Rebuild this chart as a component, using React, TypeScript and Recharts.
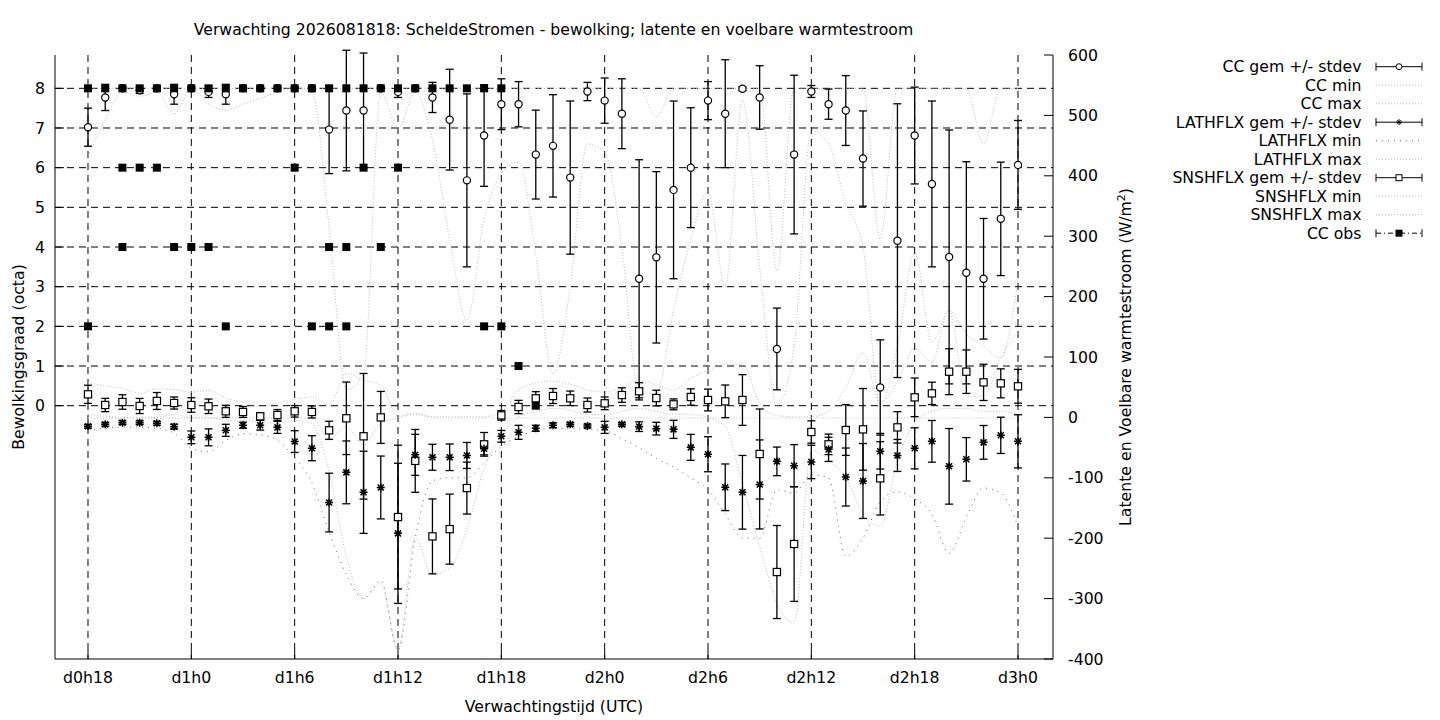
import React from 'react';
import { ComposedChart, Line, Scatter, XAxis, YAxis, CartesianGrid, ErrorBar } from 'recharts';

// uren na d0h18
const hours = [
  0, 1, 2, 3, 4, 5, 6, 7, 8, 9, 10, 11, 12, 13, 14, 15, 16, 17, 18, 19, 20, 21, 22, 23, 24, 25, 26, 27,
  28, 29, 30, 31, 32, 33, 34, 35, 36, 37, 38, 39, 40, 41, 42, 43, 44, 45, 46, 47, 48, 49, 50, 51, 52, 53, 54,
];
const xTicks = [0, 6, 12, 18, 24, 30, 36, 42, 48, 54];
const xTickLabels = ['d0h18', 'd1h0', 'd1h6', 'd1h12', 'd1h18', 'd2h0', 'd2h6', 'd2h12', 'd2h18', 'd3h0'];
const ccTicks = [0, 1, 2, 3, 4, 5, 6, 7, 8];
const fluxTicks = [-400, -300, -200, -100, 0, 100, 200, 300, 400, 500, 600];

// bewolking (octa)
const ccMean = [
  7.02, 7.77, 8, 7.95, 8, 7.85, 8, 7.91, 7.85, 8, 8, 8, 8, 8, 6.96, 7.44, 7.44, 8, 7.91, 8, 7.77, 7.21, 5.68, 6.81,
  7.6, 7.6, 6.33, 6.55, 5.75, 7.92, 7.69, 7.36, 3.2, 3.74, 5.44, 6.0, 7.69, 7.36, 7.99, 7.77, 1.43, 6.33, 7.92, 7.6,
  7.44, 6.23, 0.46, 4.16, 6.81, 5.59, 3.75, 3.35, 3.2, 4.71, 6.07,
];
const ccStdev = [
  0.48, 0.33, 0, 0.08, 0, 0.25, 0, 0.14, 0.25, 0, 0, 0, 0, 0, 1.11, 1.52, 1.45, 0, 0.14, 0, 0.38, 1.27, 2.18, 1.28,
  0.64, 0.57, 1.12, 1.29, 1.93, 0.23, 0.57, 0.88, 3.0, 2.16, 2.24, 1.51, 0.48, 1.36, 0.05, 0.8, 1.03, 2.0, 0.15, 0.38,
  0.88, 1.2, 1.2, 3.45, 1.22, 2.09, 3.2, 2.8, 1.52, 1.43, 1.12,
];
const ccMin = [
  6.3, 7.2, 7.9, 7.8, 7.9, 7.35, 8, 7.6, 7.45, 7.6, 7.75, 7.9, 8, 7.9, 4.5, 0.4, 0.8, 7.9, 7.0, 7.9, 6.7, 4.2, 2.15,
  4.7, 5.85, 6.14, 3.8, 0.8, 3.0, 6.6, 6.4, 4.0, 0.3, 0.3, 2.4, 4.2, 5.4, 3.0, 7.7, 3.5, 0.0, 1.5, 6.94, 6.6, 5.1,
  4.0, 0.0, 1.5, 3.85, 1.6, 2.4, 1.8, 1.5, 1.2, 3.2,
];
const ccMax = [
  8, 8, 8, 8, 8, 8, 8, 8, 8, 8, 8, 8, 8, 8, 8, 8, 8, 8, 8, 8, 8, 8, 8, 8, 8, 8, 8, 8, 8, 8, 8, 8, 8, 7.28, 8, 8, 8,
  8, 8, 8, 3.4, 8, 8, 8, 8, 8, 4.2, 8, 8, 8, 8, 8, 6.6, 8, 8,
];

// latente warmtestroom (W/m2)
const latMean = [
  -14.8, -11.5, -8.7, -8.7, -9.8, -15.3, -33, -33, -21.4, -13, -13, -16.5, -40, -51, -141, -91, -124, -116, -192, -62,
  -66, -66, -63, -52, -31.3, -24.7, -18, -13, -11.5, -14.2, -16.5, -11.5, -15.3, -18.6, -19.8, -49.6, -61, -115.7,
  -124, -111, -72.8, -80, -73.8, -52.9, -98.7, -105.3, -56, -63, -51.2, -39.6, -81, -69.4, -41.3, -29.7, -39.6,
];
const latStdev = [
  3, 3, 3, 3, 3, 4, 10.5, 14, 10, 5, 8, 10, 18, 20.7, 48.6, 52, 68, 52, 116, 34, 21.5, 22, 21.5, 10, 9.7, 11.6, 5, 4,
  3, 3, 10, 3, 8, 10.5, 15, 21.5, 29, 38.6, 61, 73.7, 23.7, 35, 27.6, 20, 48, 62, 29.5, 26.5, 34, 34.5, 62.6, 36, 27.9,
  30, 44,
];
const latMin = [
  -20, -18, -16, -16, -18, -26, -51, -57, -38, -27, -29, -38, -67, -109, -190, -260, -300, -270, -385, -200, -105,
  -100, -100, -75, -48, -32, -22, -18, -18, -20, -22, -35, -50, -68, -82, -100, -120, -160, -200, -200, -120, -125,
  -95, -100, -230, -200, -140, -123, -135, -160, -225, -165, -117, -125, -181,
];
const latMax = [
  -1, -1, -1, -1, -1, -1, -1, -1, -1, -1, -1, -1, -1, -1, -35, -15, -45, -10, -1, 6, -1, -1, -1, -1, -1, -1, -1, -1,
  -1, -1, -1, -1, -1, -1, -1, -1, -1, -1, -1, -1, -1, -1, -1, -1, -1, -1, -1, -1, -1, -1, -1, -1, -1, -1, -1,
];

// voelbare warmtestroom (W/m2)
const snsMean = [
  38.2, 20.5, 25.5, 18.9, 27.2, 23.8, 20.5, 18.4, 10.1, 9, 1.8, 4, 10.1, 9, -21.4, -1.5, -31.3, 0, -165, -72, -197,
  -185, -117, -44.6, 3.4, 17.2, 31.6, 35.4, 31.6, 20.5, 23.3, 37, 43.2, 32, 21.6, 33.8, 28.8, 26.6, 28.8, -60.6, -256,
  -209.6, -24.2, -44.6, -20.9, -19.8, -100.9, -16.5, 33.2, 39.8, 75.7, 75.7, 58, 56.4, 51.5,
];
const snsStdev = [
  15, 11, 12, 12.5, 14, 10, 12, 12, 10, 9, 5.5, 9, 9.5, 10, 15, 60, 104, 43, 119, 52, 62, 58, 43, 19.6, 8, 11, 11,
  12.4, 12, 11.6, 10.5, 12, 14.3, 13, 9, 13.5, 18, 27, 42, 74.5, 77, 95, 18.5, 17, 42, 67.6, 60.7, 26, 32, 18.5, 38,
  36, 30, 24, 28,
];
const snsMin = [
  5, 2, 0, 0, 0, 5, 0, 0, -5, -5, -8, -10, -5, -10, -90, -230, -300, -275, -385, -200, -260, -250, -185, -85, -30, 0,
  10, 15, 12, 5, 5, 10, 15, 10, 5, 5, 0, -15, -110, -214, -307, -340, -55, -70, -100, -160, -180, -70, -10, 10, 15, 15,
  10, 10, 5,
];
const snsMax = [
  57, 52, 48, 40, 47, 46, 42, 45, 32, 25, 18, 24, 30, 34, 20, 73, 62, 54, 2, 7, 1, 1, 1, 1, 10, 45, 57, 60, 55, 45,
  42, 50, 62, 54, 45, 65, 78, 88, 88, 24, 3, 1, 1, 10, 50, 107, 24, 60, 115, 92, 178, 35, 35, 100, 140,
];

// waargenomen bewolking
const obsHour = [
  0, 0, 1, 2, 2, 2, 3, 3, 4, 4, 5, 5, 6, 6, 7, 7, 8, 8, 9, 10, 11, 12, 12, 13, 13, 14, 14, 14, 15, 15, 15, 16, 16,
  17, 17, 18, 18, 19, 20, 21, 22, 23, 23, 24, 24, 25, 26,
];
const obsOcta = [
  8, 2, 8, 8, 6, 4, 8, 6, 8, 6, 8, 4, 8, 4, 8, 4, 8, 2, 8, 8, 8, 8, 6, 8, 2, 8, 4, 2, 8, 4, 2, 8, 6,
  8, 4, 8, 6, 8, 8, 8, 8, 8, 2, 8, 2, 1, 0,
];

const rows = hours.map((t, i) => ({
  t,
  ccMean: ccMean[i],
  ccErr: ccStdev[i],
  ccMin: ccMin[i],
  ccMax: ccMax[i],
  latMean: latMean[i],
  latErr: latStdev[i],
  latMin: latMin[i],
  latMax: latMax[i],
  snsMean: snsMean[i],
  snsErr: snsStdev[i],
  snsMin: snsMin[i],
  snsMax: snsMax[i],
}));
const obsRows = obsHour.map((t, i) => ({ t, v: obsOcta[i] }));

const FONT = '"DejaVu Sans", sans-serif';
const FS = 15.7;
const LIGHT = '#bcbcbc';

const renderCircle = (p: any) => (
  <circle key={`cc${p.index}`} cx={p.cx} cy={p.cy} r={3.6} fill="#fff" stroke="#000" strokeWidth={1.2} />
);
const renderAsterisk = (p: any) => {
  const { cx, cy } = p;
  const r = 4;
  const d = 3;
  return (
    <path
      key={`la${p.index}`}
      d={`M${cx - r},${cy}H${cx + r}M${cx},${cy - r}V${cy + r}M${cx - d},${cy - d}L${cx + d},${cy + d}M${cx - d},${cy + d}L${cx + d},${cy - d}`}
      stroke="#000"
      strokeWidth={1.5}
      fill="none"
    />
  );
};
const renderOpenSquare = (p: any) => (
  <rect key={`sn${p.index}`} x={p.cx - 3.6} y={p.cy - 3.6} width={7.2} height={7.2} fill="#fff" stroke="#000" strokeWidth={1.2} />
);
const renderObs = (p: any) => <rect x={p.cx - 4} y={p.cy - 4} width={8} height={8} fill="#000" />;

const legendItems = [
  { label: 'CC gem +/- stdev', kind: 'circle' },
  { label: 'CC min', kind: 'light' },
  { label: 'CC max', kind: 'light' },
  { label: 'LATHFLX gem +/- stdev', kind: 'asterisk' },
  { label: 'LATHFLX min', kind: 'sparse' },
  { label: 'LATHFLX max', kind: 'light' },
  { label: 'SNSHFLX gem +/- stdev', kind: 'square' },
  { label: 'SNSHFLX min', kind: 'light' },
  { label: 'SNSHFLX max', kind: 'light' },
  { label: 'CC obs', kind: 'obs' },
];

function LegendSample({ kind, y }: { kind: string; y: number }) {
  const x1 = 1376;
  const x2 = 1422;
  const xm = (x1 + x2) / 2;
  if (kind === 'light') return <line x1={x1} x2={x2} y1={y} y2={y} stroke={LIGHT} strokeDasharray="1 2" />;
  if (kind === 'sparse') return <line x1={x1} x2={x2} y1={y} y2={y} stroke="#777" strokeDasharray="1 5" />;
  const caps = (
    <>
      <line x1={x1} x2={x1} y1={y - 4} y2={y + 4} stroke="#000" />
      <line x1={x2} x2={x2} y1={y - 4} y2={y + 4} stroke="#000" />
    </>
  );
  if (kind === 'obs')
    return (
      <g>
        <line x1={x1} x2={x2} y1={y} y2={y} stroke="#000" strokeDasharray="5 3 1 3" />
        {caps}
        <rect x={xm - 3.5} y={y - 3.5} width={7} height={7} fill="#000" />
      </g>
    );
  return (
    <g>
      <line x1={x1} x2={x2} y1={y} y2={y} stroke="#000" />
      {caps}
      {kind === 'circle' && <circle cx={xm} cy={y} r={3} fill="#fff" stroke="#000" />}
      {kind === 'square' && <rect x={xm - 3} y={y - 3} width={6} height={6} fill="#fff" stroke="#000" />}
      {kind === 'asterisk' && (
        <path
          d={`M${xm - 3},${y}H${xm + 3}M${xm},${y - 3}V${y + 3}M${xm - 2},${y - 2}L${xm + 2},${y + 2}M${xm - 2},${y + 2}L${xm + 2},${y - 2}`}
          stroke="#000"
        />
      )}
    </g>
  );
}

export default function App() {
  const tickStyle = { fill: '#000', fontSize: FS, fontFamily: FONT };
  return (
    <div style={{ position: 'absolute', left: 0, top: 0, width: 1440, height: 720, background: '#fff' }}>
      <ComposedChart
        width={1440}
        height={720}
        data={rows}
        margin={{ top: 55, right: 287, bottom: 0, left: 0 }}
      >
        <CartesianGrid yAxisId="left" stroke="#000" strokeDasharray="7 5" horizontalValues={ccTicks} verticalValues={xTicks} />
        <XAxis
          dataKey="t"
          type="number"
          domain={[-1.916, 56.032]}
          ticks={xTicks}
          allowDataOverflow
          height={61}
          tickFormatter={(v: number) => xTickLabels[xTicks.indexOf(v)] ?? ''}
          tick={tickStyle}
          tickSize={-9}
          tickMargin={22}
          tickLine={{ stroke: '#000' }}
          axisLine={{ stroke: '#000' }}
        />
        <XAxis xAxisId="top" orientation="top" type="number" domain={[-1.916, 56.032]} height={0} tick={false} tickLine={false} axisLine={{ stroke: '#000' }} />
        <YAxis
          yAxisId="left"
          type="number"
          domain={[-6.385, 8.84]}
          ticks={ccTicks}
          allowDataOverflow
          width={55}
          tick={tickStyle}
          tickSize={-9}
          tickMargin={19}
          tickLine={{ stroke: '#000' }}
          axisLine={{ stroke: '#000' }}
        />
        <YAxis
          yAxisId="leftMirror"
          orientation="right"
          type="number"
          domain={[-6.385, 8.84]}
          ticks={ccTicks}
          allowDataOverflow
          width={0}
          tick={false}
          tickSize={-9}
          tickLine={{ stroke: '#000' }}
          axisLine={false}
        />
        <YAxis
          yAxisId="right"
          orientation="right"
          type="number"
          domain={[-400, 600]}
          ticks={fluxTicks}
          allowDataOverflow
          width={100}
          tick={{ ...tickStyle, textAnchor: 'start' }}
          tickSize={-9}
          tickMargin={24}
          tickLine={{ stroke: '#000' }}
          axisLine={{ stroke: '#000' }}
        />

        <Line yAxisId="left" dataKey="ccMin" type="monotone" stroke={LIGHT} strokeDasharray="1 2" dot={false} isAnimationActive={false} />
        <Line yAxisId="left" dataKey="ccMax" type="monotone" stroke={LIGHT} strokeDasharray="1 2" dot={false} isAnimationActive={false} />
        <Line yAxisId="right" dataKey="latMin" type="monotone" stroke="#666" strokeDasharray="1 5" dot={false} isAnimationActive={false} />
        <Line yAxisId="right" dataKey="latMax" type="monotone" stroke={LIGHT} strokeDasharray="1 2" dot={false} isAnimationActive={false} />
        <Line yAxisId="right" dataKey="snsMin" type="monotone" stroke={LIGHT} strokeDasharray="1 2" dot={false} isAnimationActive={false} />
        <Line yAxisId="right" dataKey="snsMax" type="monotone" stroke={LIGHT} strokeDasharray="1 2" dot={false} isAnimationActive={false} />

        <Line yAxisId="right" dataKey="snsMean" stroke="none" dot={renderOpenSquare} activeDot={false} isAnimationActive={false}>
          <ErrorBar dataKey="snsErr" direction="y" width={4} stroke="#000" strokeWidth={1.3} isAnimationActive={false} />
        </Line>
        <Line yAxisId="right" dataKey="latMean" stroke="none" dot={renderAsterisk} activeDot={false} isAnimationActive={false}>
          <ErrorBar dataKey="latErr" direction="y" width={4} stroke="#000" strokeWidth={1.3} isAnimationActive={false} />
        </Line>
        <Line yAxisId="left" dataKey="ccMean" stroke="none" dot={renderCircle} activeDot={false} isAnimationActive={false}>
          <ErrorBar dataKey="ccErr" direction="y" width={4} stroke="#000" strokeWidth={1.3} isAnimationActive={false} />
        </Line>
        <Scatter yAxisId="left" data={obsRows} dataKey="v" shape={renderObs} isAnimationActive={false} />
      </ComposedChart>

      <svg width={1440} height={720} style={{ position: 'absolute', left: 0, top: 0, pointerEvents: 'none' }}>
        <g fontFamily={FONT} fontSize={FS} fill="#000">
          <text x={553.5} y={34.5} textAnchor="middle">
            Verwachting 2026081818: ScheldeStromen - bewolking; latente en voelbare warmtestroom
          </text>
          <text x={554} y={711.5} textAnchor="middle">
            Verwachtingstijd (UTC)
          </text>
          <text transform="translate(23.5,357) rotate(-90)" textAnchor="middle">
            Bewolkingsgraad (octa)
          </text>
          <text transform="translate(1130.5,357) rotate(-90)" textAnchor="middle">
            <tspan>Latente en Voelbare warmtestroom (W/m</tspan>
            <tspan fontSize={11} dy={-6}>2</tspan>
            <tspan dy={6}>)</tspan>
          </text>
          {legendItems.map((it, i) => {
            const y = 66.7 + i * 18.5;
            return (
              <g key={it.label}>
                <text x={1361.5} y={y + 5.5} textAnchor="end">
                  {it.label}
                </text>
                <LegendSample kind={it.kind} y={y} />
              </g>
            );
          })}
        </g>
      </svg>
    </div>
  );
}
